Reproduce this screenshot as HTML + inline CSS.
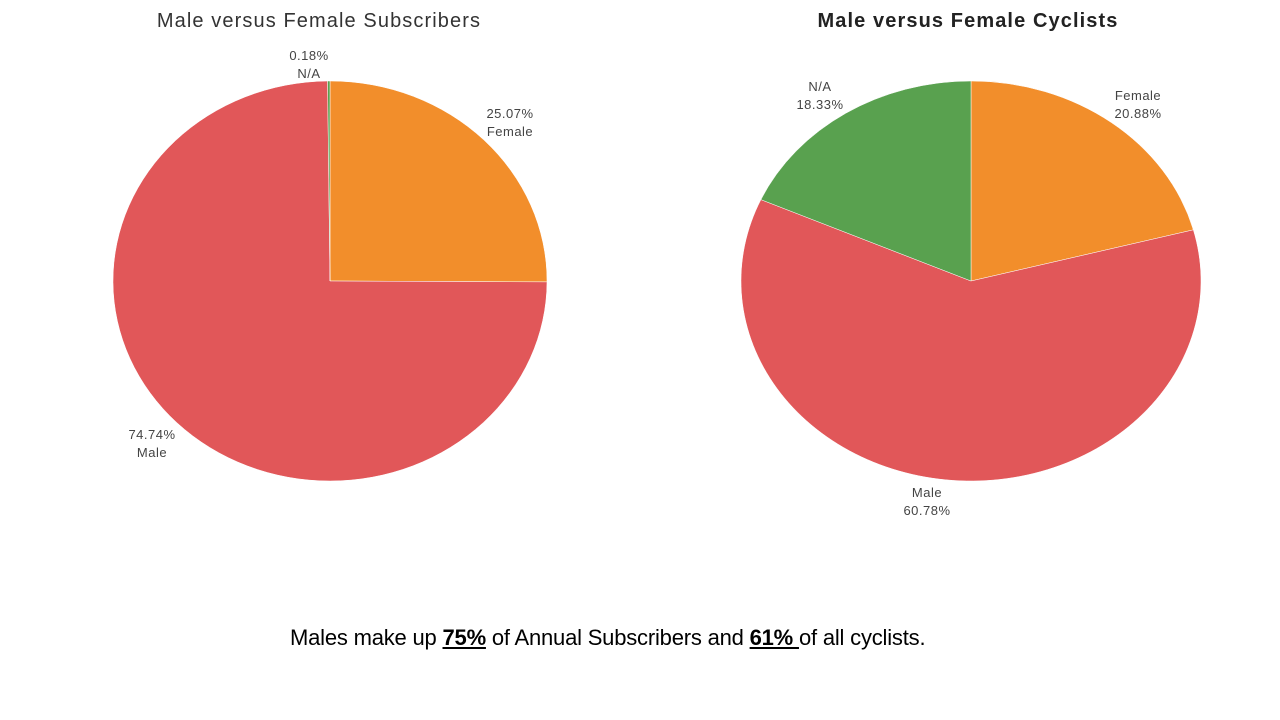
<!DOCTYPE html>
<html><head><meta charset="utf-8"><style>
html,body{margin:0;padding:0;background:#fff;width:1280px;height:720px;overflow:hidden;font-family:"Liberation Sans",sans-serif}
svg{position:absolute;left:0;top:0}
.note{position:absolute;left:290px;top:625px;font-size:22px;color:#000;white-space:nowrap;letter-spacing:-0.2px}
.note b{text-decoration:underline}
</style></head><body>
<svg width="1280" height="720">
<text x="319" y="27" text-anchor="middle" font-size="20" letter-spacing="1.1" fill="#333">Male versus Female Subscribers</text>
<text x="968" y="27" text-anchor="middle" font-size="20" letter-spacing="1.1" fill="#222" font-weight="bold">Male versus Female Cyclists</text>
<g id="pie1"></g>
<g id="pie2"></g>
</svg>
<div class="note">Males make up <b>75%</b> of Annual Subscribers and <b>61% </b>of all cyclists.</div>
<script>
const categories1=["Female","Male","N/A"];
const values1=[25.07,74.74,0.18];
const categories2=["Female","Male","N/A"];
const values2=[20.88,60.78,18.33];
const colors={"Female":"#f28e2b","Male":"#e15759","N/A":"#59a14f"};
const NS="http://www.w3.org/2000/svg";
function pie(gid,cats,vals,cx,cy,rx,ry,labels,pctFirst){
  const g=document.getElementById(gid);
  const tot=vals.reduce((a,b)=>a+b,0);
  let a0=0;
  cats.forEach((c,i)=>{
    const a1=a0+vals[i]/tot*2*Math.PI;
    const p=(a)=>[cx+rx*Math.sin(a),cy-ry*Math.cos(a)];
    const [x0,y0]=p(a0),[x1,y1]=p(a1);
    const path=document.createElementNS(NS,"path");
    path.setAttribute("d",`M${cx},${cy}L${x0},${y0}A${rx},${ry} 0 ${a1-a0>Math.PI?1:0} 1 ${x1},${y1}Z`);
    path.setAttribute("fill",colors[c]);
    path.setAttribute("stroke","#fff");path.setAttribute("stroke-width","0.5");
    
    
    g.appendChild(path);
    const L=labels[i];
    const lines=pctFirst[i]?[vals[i].toFixed(2)+"%",c]:[c,vals[i].toFixed(2)+"%"];
    lines.forEach((t,k)=>{
      const tx=document.createElementNS(NS,"text");
      tx.setAttribute("x",L[0]);tx.setAttribute("y",L[1]+k*18);
      tx.setAttribute("text-anchor","middle");tx.setAttribute("font-size","13");tx.setAttribute("letter-spacing","0.5");tx.setAttribute("fill","#444");
      tx.textContent=t;
      
      
      g.appendChild(tx);
    });
    a0=a1;
  });
}
pie("pie1",categories1,values1,330,281,217,200,[[510,118],[152,439],[309,60]],[true,true,true]);
pie("pie2",categories2,values2,971,281,230,200,[[1138,100],[927,497],[820,91]],[false,false,false]);
</script>
</body></html>
